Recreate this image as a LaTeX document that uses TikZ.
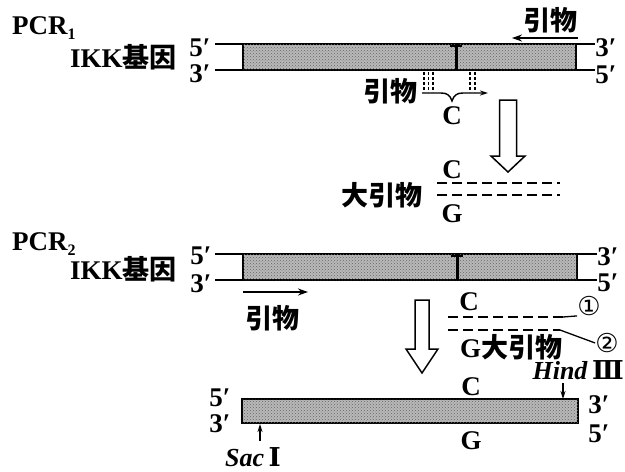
\documentclass[tikz,border=0pt]{standalone}
\usepackage{fontspec}
\setmainfont{Liberation Serif}
\newfontfamily\cjk{Noto Sans CJK SC}
\newfontfamily\symf{DejaVu Sans}
\newfontfamily\romf{DejaVu Serif}
\usetikzlibrary{patterns,arrows.meta}
\newcommand\mysub[1]{\raisebox{-0.45ex}{\fontsize{16}{16}\selectfont #1}}
\begin{document}
\begin{tikzpicture}[x=1pt,y=-1pt,
  lbl/.style={font=\fontsize{27}{27}\selectfont\bfseries, inner sep=0pt},
  zh/.style={font=\fontsize{27}{27}\selectfont\cjk\bfseries, inner sep=0pt},
  circ/.style={font=\fontsize{26}{26}\selectfont\symf, inner sep=0pt},
  strand/.style={line width=2pt},
  gene/.style={draw, line width=2.2pt, fill=gray!55, postaction={pattern=crosshatch dots, pattern color=black!60}},
  prim/.style={line width=1.6pt, -{Stealth[length=10pt,width=7pt]}},
  small/.style={line width=1.4pt, -{Stealth[length=8pt,width=5pt]}},
  hollow/.style={draw, line width=1.5pt, fill=white},
  dsh/.style={line width=2pt, dash pattern=on 10pt off 5pt},
  dots/.style={line width=1.3pt, dash pattern=on 3pt off 2pt},
]
\useasboundingbox (0,0) rectangle (625,472);

% ---------------- PCR1 ----------------
\node[lbl, anchor=base west] (pcr1) at (12,34) {PCR\mysub{1}};
\node[lbl, anchor=base west] (ikk1) at (70,67) {IKK{\cjk 基因}};
\draw[strand] (215,44) coordinate (a1) -- (595,44) coordinate (a2);
\draw[strand] (215,70) coordinate (b1) -- (595,70) coordinate (b2);
\path[gene] (243,44) rectangle (576,70);
\draw[line width=3pt] (456,44) -- (456,70);
\draw[line width=2pt] (450,46) -- (462,46);
\node[lbl, anchor=base] (l51) at (200,56) {5′};
\node[lbl, anchor=base] (l31) at (200,82) {3′};
\node[lbl, anchor=base] (r31) at (606,56) {3′};
\node[lbl, anchor=base] (r51) at (606,83) {5′};
\node[zh] (pu) at (550,20) {引物};
\coordinate (pus) at (578,38);
\coordinate (pue) at (512,38);
\draw[prim] (pus) -- (pue);
% lower primer of PCR1
\node[zh] (pl) at (390,91) {引物};
\foreach \x in {424,428.5,433,470,475}
  \draw[dots] (\x,72) -- (\x,92);
\coordinate (pls) at (422,93);
\coordinate (ple) at (488,93);
\draw[small] (pls) -- (441,93) .. controls (447,93) and (450,95) .. (452,101)
   .. controls (454,95) and (457,93) .. (463,93) -- (ple);
\node[lbl] (c1) at (452,116) {C};

% hollow arrow 1
\path[hollow] (499.5,100) -- (516.5,100) -- (516.5,156) -- (525,156) -- (508,172)
   -- (491,156) -- (499.5,156) -- cycle;

% big primer 1
\node[zh] (bp1) at (382,195) {大引物};
\draw[dsh] (437,183) -- (560,183);
\draw[dsh] (437,195) -- (560,195);
\node[lbl] (c2) at (452,170) {C};
\node[lbl] (g2) at (452,214) {G};

% ---------------- PCR2 ----------------
\node[lbl, anchor=base west] (pcr2) at (12,250) {PCR\mysub{2}};
\node[lbl, anchor=base west] (ikk2) at (70,279) {IKK{\cjk 基因}};
\draw[strand] (215,254) -- (597,254);
\draw[strand] (215,280) -- (597,280);
\path[gene] (243,254) rectangle (577,280);
\draw[line width=3pt] (457,254) -- (457,280);
\draw[line width=2pt] (451,256) -- (463,256);
\node[lbl, anchor=base] (l52) at (201,264) {5′};
\node[lbl, anchor=base] (l32) at (201,292) {3′};
\node[lbl, anchor=base] (r32) at (608,265) {3′};
\node[lbl, anchor=base] (r52) at (608,291) {5′};
\coordinate (p2s) at (243,292);
\coordinate (p2e) at (308,292);
\draw[prim] (p2s) -- (p2e);
\node[zh] (p2) at (272,318) {引物};

% hollow arrow 2
\path[hollow] (415,300) -- (429,300) -- (429,349) -- (438,349) -- (422,373)
   -- (406,349) -- (415,349) -- cycle;

% big primer 2
\node[lbl] (c3) at (469,302) {C};
\draw[dsh] (448,317) -- (563,317) coordinate (e1);
\draw[dsh] (448,330) -- (560,330) coordinate (e2);
\node[anchor=base west, inner sep=0pt] (bp2) at (460,357)
  {\fontsize{27}{27}\selectfont\bfseries G{\cjk 大引物}};
\node[circ] (n1) at (589,306) {①};
\node[circ] (n2) at (607,343) {②};
\draw[line width=1.3pt] (e1) -- (n1.south west);
\draw[line width=1.3pt] (e2) -- (n2.west);

% ---------------- product ----------------
\path[gene] (242,399) rectangle (578,423);
\node[lbl, anchor=base] (l53) at (220,406) {5′};
\node[lbl, anchor=base] (l33) at (220,432) {3′};
\node[lbl, anchor=base] (r33) at (599,413) {3′};
\node[lbl, anchor=base] (r53) at (599,442) {5′};
\node[lbl] (c4) at (471,387) {C};
\node[lbl] (g4) at (471,441) {G};
\node[anchor=base east, inner sep=0pt] (hind) at (624,379)
  {\fontsize{26}{26}\selectfont\bfseries\textit{Hind}\,{\romf Ⅲ}};
\coordinate (ht) at (563,399);
\draw[small] (563,383) -- (ht);
\node[anchor=base west, inner sep=0pt] (sac) at (225,466)
  {\fontsize{26}{26}\selectfont\bfseries\textit{Sac}\,{\romf Ⅰ}};
\coordinate (st) at (260,424);
\draw[small] (260,441) -- (st);
\end{tikzpicture}
\end{document}
